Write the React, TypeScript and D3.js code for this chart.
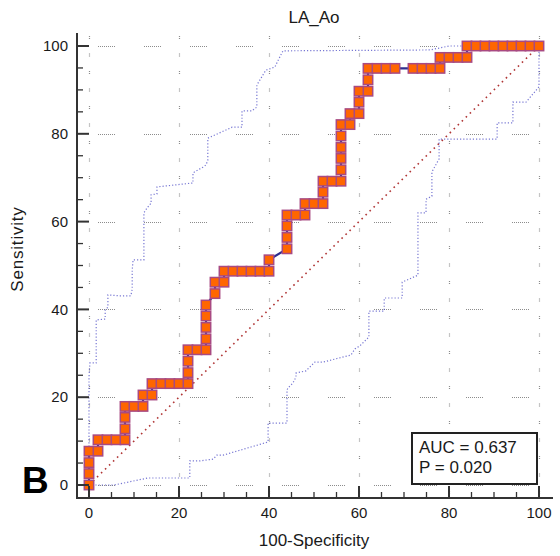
import React from 'react';
import * as d3 from 'd3';

// ROC curve points: 100-Specificity (%) and Sensitivity (%)
const rocX = [0,0,0,0,2,2,4,6,8,8,8,8,10,12,12,14,14,16,18,20,22,22,22,22,24,26,26,26,26,26,28,28,30,30,32,34,36,38,40,40,44,44,44,44,46,48,48,50,52,52,52,54,56,56,56,56,56,56,58,58,60,60,60,62,62,62,64,66,68,72,74,76,78,78,80,82,84,84,86,88,90,92,94,96,98,100];
const rocY = [0,2.6,5.1,7.7,7.7,10.3,10.3,10.3,10.3,12.8,15.4,17.9,17.9,17.9,20.5,20.5,23.1,23.1,23.1,23.1,23.1,25.6,28.2,30.8,30.8,30.8,33.3,35.9,38.5,41.0,43.6,46.2,46.2,48.7,48.7,48.7,48.7,48.7,48.7,51.3,53.8,56.4,59.0,61.5,61.5,61.5,64.1,64.1,64.1,66.7,69.2,69.2,69.2,71.8,74.4,76.9,79.5,82.1,82.1,84.6,84.6,87.2,89.7,89.7,92.3,94.9,94.9,94.9,94.9,94.9,94.9,94.9,94.9,97.4,97.4,97.4,97.4,100,100,100,100,100,100,100,100,100];

// Upper 95% confidence bound
const upperX = [0,0,0.2,1.6,1.6,3.6,3.6,4.2,4.2,6.7,9.3,9.6,9.6,9.8,12.2,12.2,12.9,13.8,13.8,15.1,15.1,23.1,23.1,25.3,26,26.4,26.4,31.8,34,34,36.2,37.3,37.3,39.3,41.3,42.4,43.1,75.8,80,100];
const upperY = [0,24.6,27.8,27.8,37.6,37.8,39.9,40.5,43.3,43.1,43.1,44.6,49,51.3,51.3,62,63.1,64.2,66.1,66.3,67.9,68.8,71.1,72.4,72.9,74,79,81.5,81.5,85.2,85.2,86.1,91.1,94.5,95.2,97.5,98.9,99.1,100,100];

// Lower 95% confidence bound
const lowerX = [0,5.6,13.1,22.4,22.4,24.7,27.6,28.4,29.8,39.8,39.8,44,44,44.2,45.3,46,46,48.2,50.2,52,58.2,59.1,60.2,62.2,62.2,65.6,65.6,69.6,69.6,73.1,73.1,74.9,74.9,76.2,76.2,77.8,77.8,90.7,90.7,94.2,94.2,97.1,100,100];
const lowerY = [0,0,1.6,1.6,5.5,5.5,5.9,6.8,6.8,9.8,14.1,14.1,21.6,22.1,23.2,24.6,25.5,26,28,28,29.6,31,31.7,33.7,39.6,39.6,42.6,42.6,46.2,47.8,62,62,65.1,65.8,71.3,74.3,78.8,78.8,82.5,82.5,87.2,87.2,90.7,100];

const majorTicks = [0, 20, 40, 60, 80, 100];
const minorTicks = [5, 10, 15, 25, 30, 35, 45, 50, 55, 65, 70, 75, 85, 90, 95];
const titleText = 'LA_Ao';
const xLabel = '100-Specificity';
const yLabel = 'Sensitivity';
const statLines = ['AUC = 0.637', 'P = 0.020'];
const panelLabel = 'B';

const FONT = "'Liberation Sans', Arial, sans-serif";

function dotDash(nDots: number, gap: number) {
  const a: number[] = [];
  for (let i = 0; i < nDots; i++) {
    a.push(1);
    a.push(i === nDots - 1 ? gap : 1);
  }
  return a.join(',');
}

export default function App() {
  const x = d3.scaleLinear().domain([0, 100]).range([89, 539]);
  const y = d3.scaleLinear().domain([0, 100]).range([485, 46]);
  const pathOf = (xs: number[], ys: number[]) =>
    d3.line<number>()
      .x((_, i) => x(xs[i]))
      .y((_, i) => y(ys[i]))(xs) as string;

  const axisX = 77;
  const axisY = 498;
  const hDash = dotDash(9, 29);
  const vDash = '1,1,1,14.5';
  const sq = 9.4;

  return (
    <svg width={560} height={556} style={{ position: 'absolute', left: 0, top: 0, background: '#fff' }} fontFamily={FONT}>
      <rect x={0} y={0} width={560} height={556} fill="#fff" />
      {/* grid */}
      {majorTicks.map((t) => (
        <line key={'hg' + t} x1={98} x2={551} y1={Math.round(y(t)) + 0.5} y2={Math.round(y(t)) + 0.5}
          stroke="#8c8c8c" strokeWidth={1} strokeDasharray={hDash} />
      ))}
      {majorTicks.map((t) => (
        <line key={'vg' + t} x1={Math.round(x(t)) + 0.5} x2={Math.round(x(t)) + 0.5} y1={36} y2={496}
          stroke="#8c8c8c" strokeWidth={1.2} strokeDasharray={vDash} />
      ))}
      {/* diagonal */}
      <line x1={x(0)} y1={y(0)} x2={x(100)} y2={y(100)} stroke="#b03535" strokeWidth={1.6} strokeDasharray="1.6,4" />
      {/* confidence bounds */}
      <path d={pathOf(upperX, upperY)} fill="none" stroke="#4a4ac4" strokeOpacity={0.75} strokeWidth={1.2} strokeDasharray="1.2,2" />
      <path d={pathOf(lowerX, lowerY)} fill="none" stroke="#4a4ac4" strokeOpacity={0.75} strokeWidth={1.2} strokeDasharray="1.2,2" />
      {/* ROC line */}
      <path d={pathOf(rocX, rocY)} fill="none" stroke="#2e2e8f" strokeWidth={2.2} />
      {rocX.map((v, i) => (
        <rect key={'p' + i} x={x(v) - sq / 2} y={y(rocY[i]) - sq / 2} width={sq} height={sq}
          fill="#ff6600" stroke="#a84a82" strokeWidth={1.5} />
      ))}
      {/* axes */}
      <line x1={axisX} x2={axisX} y1={33} y2={axisY + 1} stroke="#333" strokeWidth={2} />
      <line x1={axisX - 1} x2={553} y1={axisY} y2={axisY} stroke="#333" strokeWidth={2} />
      {majorTicks.map((t) => (
        <g key={'mt' + t}>
          <line x1={axisX} x2={axisX + 12} y1={y(t)} y2={y(t)} stroke="#333" strokeWidth={2} />
          <line x1={x(t)} x2={x(t)} y1={axisY} y2={axisY - 12} stroke="#333" strokeWidth={2} />
          <text x={68} y={y(t)} dy="0.35em" textAnchor="end" fontSize={15} fill="#1a1a1a">{t}</text>
          <text x={x(t)} y={518} textAnchor="middle" fontSize={15} fill="#1a1a1a">{t}</text>
        </g>
      ))}
      {minorTicks.map((t) => (
        <g key={'nt' + t}>
          <line x1={axisX} x2={axisX + 6} y1={y(t)} y2={y(t)} stroke="#333" strokeWidth={1.3} />
          <line x1={x(t)} x2={x(t)} y1={axisY} y2={axisY - 6} stroke="#333" strokeWidth={1.3} />
        </g>
      ))}
      {/* titles */}
      <text x={314} y={23} textAnchor="middle" fontSize={17} fill="#1a1a1a">{titleText}</text>
      <text x={314} y={546} textAnchor="middle" fontSize={17} fill="#1a1a1a">{xLabel}</text>
      <text transform="translate(23,249) rotate(-90)" textAnchor="middle" fontSize={17} letterSpacing={0.8} fill="#1a1a1a">{yLabel}</text>
      {/* stats box */}
      <rect x={412} y={433} width={125} height={51} fill="#fff" stroke="#222" strokeWidth={2} />
      <text x={419} y={453} fontSize={17} fill="#1a1a1a">{statLines[0]}</text>
      <text x={419} y={473} fontSize={17} fill="#1a1a1a">{statLines[1]}</text>
      {/* panel label */}
      <text x={22} y={493} fontSize={37} fontWeight="bold" fill="#000">{panelLabel}</text>
    </svg>
  );
}
